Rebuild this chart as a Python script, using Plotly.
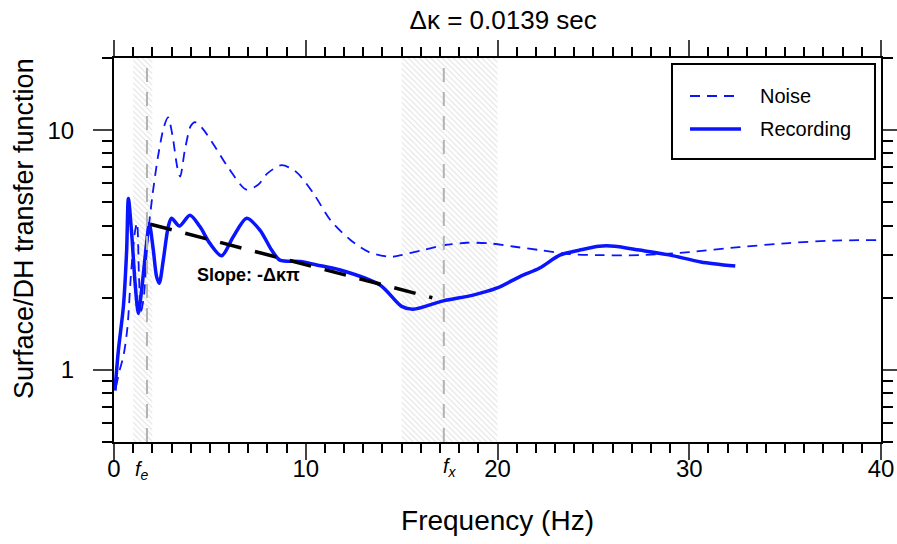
import plotly.graph_objects as go
import math

# ---- data ----
rec_f = [0.05, 0.23, 0.49, 0.66, 0.75, 0.92, 1.1, 1.27, 1.44, 1.7, 1.84, 2.05, 2.22, 2.36,
         2.57, 2.83, 3.0, 3.41, 3.96, 4.48, 5.0, 5.61, 6.22, 6.92, 7.61, 8.22, 8.65, 9.7,
         10.57, 11.8, 13.87, 15.0, 15.6, 17.17, 18.73, 19.95, 21.17, 22.2, 23.25, 24.3,
         25.3, 26.1, 27.4, 29.0, 30.6, 32.4]
rec_a = [0.82, 1.21, 1.84, 3.16, 5.19, 3.72, 2.3, 1.72, 2.15, 3.38, 4.08, 3.16, 2.45, 2.30,
         2.87, 3.96, 4.29, 3.98, 4.42, 3.96, 3.37, 2.99, 3.59, 4.29, 3.83, 3.16, 2.87, 2.83,
         2.74, 2.61, 2.26, 1.84, 1.79, 1.94, 2.05, 2.19, 2.45, 2.66, 3.01, 3.16,
         3.28, 3.28, 3.16, 3.01, 2.82, 2.71]

noise_f = [0.1, 0.3, 0.5, 0.7, 0.9, 1.1, 1.2, 1.3, 1.4, 1.55, 1.75, 2.0, 2.3, 2.6, 2.82,
           3.05, 3.3, 3.45, 3.7, 4.0, 4.22, 4.6, 5.2, 6.0, 6.9, 7.5, 8.0, 8.74, 9.5, 10.4,
           11.3, 12.3, 13.3, 14.4, 14.9, 16.1, 17.2, 18.4, 19.6, 20.8, 22.2, 23.8, 25.3,
           27.4, 30.0, 32.6, 35.2, 37.5, 39.8]
noise_a = [0.85, 1.0, 1.15, 1.5, 2.6, 3.8, 4.1, 2.5, 1.75, 2.0, 3.5, 5.3, 7.8, 10.3, 11.3,
           9.5, 7.0, 6.4, 8.3, 10.4, 10.8, 10.2, 8.7, 6.9, 5.65, 5.9, 6.6, 7.14, 6.7, 5.45,
           4.2, 3.5, 3.1, 2.96, 3.0, 3.16, 3.31, 3.39, 3.37, 3.27, 3.16, 3.04, 3.01,
           3.01, 3.1, 3.25, 3.38, 3.46, 3.48]

slope_f = [1.9, 16.6]
slope_a = [4.05, 2.0]

band_e = [1.0, 2.0]
band_x = [15.0, 20.0]
f_e = 1.72
f_x = 17.2

x_ticks = [0, 10, 20, 30, 40]
y_ticks = [1, 10]
y_minor = [0.5, 0.6, 0.7, 0.8, 0.9, 2, 3, 4, 5, 6, 7, 8, 9, 20]
y_lo, y_hi = 0.5, 20

legend_names = ["Noise", "Recording"]

FONT = "Liberation Sans, Arial, sans-serif"
BLUE = "#0a14ff"
NOISE_LINE = dict(color=BLUE, width=1.8, dash="10px,7px")
REC_LINE = dict(color=BLUE, width=3.5)

# plot area in pixels (for the hand-drawn legend box and labels)
L, R, T, B = 114, 881, 58, 442
def px(x):
    return (x - L) / (R - L)
def py(y):
    return (B - y) / (B - T)

fig = go.Figure()

for b in (band_e, band_x):
    fig.add_trace(go.Scatter(
        x=[b[0], b[1], b[1], b[0], b[0]], y=[y_lo, y_lo, y_hi, y_hi, y_lo],
        mode="lines", line=dict(width=0), fill="toself", fillcolor="rgba(0,0,0,0)",
        fillpattern=dict(shape="\\", fgcolor="#c4c4c4", bgcolor="white", size=4, solidity=0.28),
        showlegend=False, hoverinfo="skip"))

for fv in (f_e, f_x):
    fig.add_shape(type="line", xref="x", yref="paper", x0=fv, x1=fv, y0=0, y1=1,
                  line=dict(color="#b3b3b3", width=2, dash="14px,10px"))

fig.add_trace(go.Scatter(x=noise_f, y=noise_a, mode="lines", name=legend_names[0],
                         line=dict(**NOISE_LINE, shape="spline", smoothing=0.8), showlegend=False))
fig.add_trace(go.Scatter(x=rec_f, y=rec_a, mode="lines", name=legend_names[1],
                         line=dict(**REC_LINE, shape="spline", smoothing=0.8), showlegend=False))
fig.add_trace(go.Scatter(x=slope_f, y=slope_a, mode="lines", showlegend=False,
                         line=dict(color="black", width=3.5, dash="22px,14px")))

fig.add_annotation(x=7.0, y=math.log10(2.49), xref="x", yref="y", text="<b>Slope: -Δκπ</b>",
                   showarrow=False, font=dict(size=18, color="black", family=FONT))
fig.add_annotation(x=f_e - 0.25, y=-0.112, xref="x", yref="paper",
                   text="<i>f</i><sub><i>e</i></sub>", showarrow=False,
                   font=dict(size=20, color="black", family=FONT))
fig.add_annotation(x=f_x + 0.3, y=-0.105, xref="x", yref="paper",
                   text="<i>f</i><sub><i>x</i></sub>", showarrow=False,
                   font=dict(size=20, color="black", family=FONT))

# y-axis title (placed as in the reference, a little above the plot centre)
fig.add_annotation(x=px(24), y=py(229), xref="paper", yref="paper", text="Surface/DH transfer function",
                   textangle=-90, showarrow=False, xanchor="center", yanchor="middle",
                   font=dict(size=27, color="black", family=FONT))

# hand-drawn legend
fig.add_shape(type="rect", xref="paper", yref="paper", x0=px(672), x1=px(875), y0=py(159), y1=py(64),
              line=dict(color="black", width=2), fillcolor="white", layer="above")
for name, yy, ln in ((legend_names[0], 96, NOISE_LINE), (legend_names[1], 129, REC_LINE)):
    fig.add_shape(type="line", xref="paper", yref="paper", x0=px(690), x1=px(741), y0=py(yy), y1=py(yy),
                  line=ln, layer="above")
    fig.add_annotation(x=px(758), y=py(yy), xref="paper", yref="paper", text=name, showarrow=False,
                       xanchor="left", yanchor="middle", font=dict(size=20, color="black", family=FONT))

fig.update_layout(
    width=897, height=544,
    margin=dict(l=L, r=897 - R, t=T, b=544 - B),
    paper_bgcolor="white", plot_bgcolor="white",
    font=dict(family=FONT, color="black"),
    title=dict(text="Δκ = 0.0139 sec", x=0.561, xanchor="center", y=0.963, yanchor="middle",
               font=dict(size=26, family=FONT)),
    showlegend=False,
)

fig.update_xaxes(
    range=[0, 40], tickmode="array", tickvals=x_ticks, ticks="outside", ticklen=16, tickwidth=2,
    showline=True, linecolor="black", linewidth=2, mirror="allticks", showgrid=False, zeroline=False,
    tickfont=dict(size=24, family=FONT), automargin=False, ticklabelstandoff=-12,
    minor=dict(dtick=1, tick0=0, ticks="outside", ticklen=9, tickwidth=2, tickcolor="black"),
    title=dict(text="Frequency (Hz)", font=dict(size=28, family=FONT), standoff=30),
)
fig.update_yaxes(
    type="log", range=[math.log10(y_lo), math.log10(y_hi)], tickmode="array", tickvals=y_ticks,
    ticktext=["1", "10"], ticks="outside", ticklen=19, tickwidth=2,
    showline=True, linecolor="black", linewidth=2, mirror="allticks", showgrid=False, zeroline=False,
    tickfont=dict(size=24, family=FONT), ticklabelstandoff=14, automargin=False,
    minor=dict(tickmode="array", tickvals=y_minor, ticks="outside", ticklen=10, tickwidth=2,
               tickcolor="black"),
)

fig.write_html("out.html")
